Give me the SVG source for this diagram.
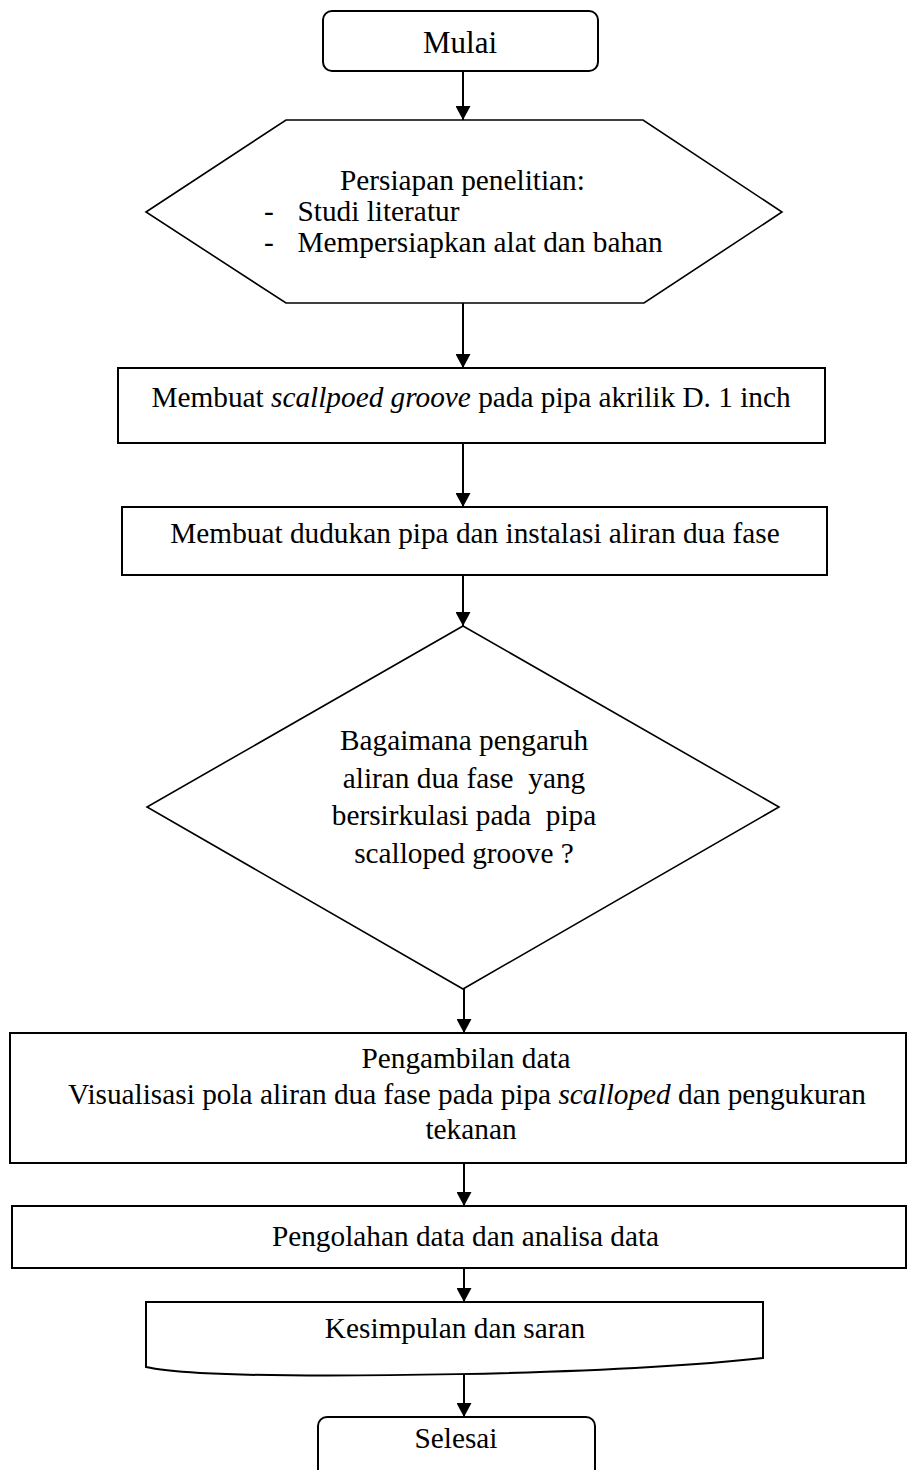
<svg xmlns="http://www.w3.org/2000/svg" width="907" height="1470" viewBox="0 0 907 1470">
<style>
.s{fill:#fff;stroke:#000;stroke-width:2}
.t{font-family:"Liberation Serif","Times New Roman",serif;font-size:29.3px;fill:#000}
.c{text-anchor:middle}
.i{font-style:italic}
.ln{stroke:#000;stroke-width:2;fill:none}
</style>
<defs>
<marker id="ah" markerWidth="14" markerHeight="15" refX="14" refY="7.5" orient="auto" markerUnits="userSpaceOnUse">
<path d="M0,0 L14,7.5 L0,15 Z" fill="#000"/>
</marker>
</defs>
<rect width="907" height="1470" fill="#fff"/>
<g id="connectors">
<line class="ln" x1="463" y1="71" x2="463" y2="120" marker-end="url(#ah)"/>
<line class="ln" x1="463" y1="303" x2="463" y2="368" marker-end="url(#ah)"/>
<line class="ln" x1="463" y1="443" x2="463" y2="507" marker-end="url(#ah)"/>
<line class="ln" x1="463" y1="575" x2="463" y2="626" marker-end="url(#ah)"/>
<line class="ln" x1="464" y1="989" x2="464" y2="1033" marker-end="url(#ah)"/>
<line class="ln" x1="464" y1="1163" x2="464" y2="1206" marker-end="url(#ah)"/>
<line class="ln" x1="464" y1="1268" x2="464" y2="1302" marker-end="url(#ah)"/>
<line class="ln" x1="464" y1="1374" x2="464" y2="1417" marker-end="url(#ah)"/>
</g>
<g id="start">
<rect class="s" x="323" y="11" width="275" height="60" rx="9"/>
<text class="t c" x="460" y="53" style="font-size:31px">Mulai</text>
</g>
<g id="prep">
<polygon class="s" style="stroke-width:1.6" points="146,212 286,120 643,120 782,212 644,303 286,303"/>
<text class="t" x="340" y="190">Persiapan penelitian:</text>
<text class="t" x="264" y="221">-</text>
<text class="t" x="297.5" y="221">Studi literatur</text>
<text class="t" x="264" y="252">-</text>
<text class="t" x="297.5" y="252">Mempersiapkan alat dan bahan</text>
</g>
<g id="groove">
<rect class="s" x="118" y="368" width="707" height="75"/>
<text class="t c" x="471" y="407">Membuat <tspan class="i">scallpoed groove</tspan> pada pipa akrilik D. 1 inch</text>
</g>
<g id="install">
<rect class="s" x="122" y="507" width="705" height="68"/>
<text class="t c" x="475" y="543">Membuat dudukan pipa dan instalasi aliran dua fase</text>
</g>
<g id="decision">
<polygon class="s" style="stroke-width:1.6" points="463,626 779,807 463,989 147,807"/>
<text class="t c" x="464" y="750" xml:space="preserve">Bagaimana pengaruh</text>
<text class="t c" x="464" y="787.5" xml:space="preserve">aliran dua fase  yang</text>
<text class="t c" x="464" y="825" xml:space="preserve">bersirkulasi pada  pipa</text>
<text class="t c" x="464" y="862.5" xml:space="preserve">scalloped groove ?</text>
</g>
<g id="data">
<rect class="s" x="10" y="1033" width="896" height="130"/>
<text class="t c" x="466" y="1068">Pengambilan data</text>
<text class="t c" x="467" y="1104">Visualisasi pola aliran dua fase pada pipa <tspan class="i">scalloped</tspan> dan pengukuran</text>
<text class="t c" x="471" y="1139">tekanan</text>
</g>
<g id="process">
<rect class="s" x="12" y="1206" width="894" height="62"/>
<text class="t c" x="465.5" y="1246">Pengolahan data dan analisa data</text>
</g>
<g id="conclusion">
<path class="s" d="M146,1302 L763,1302 L763,1358 C600,1376 300,1378 200,1373 C170,1371 155,1369 146,1367 Z"/>
<text class="t c" x="455" y="1338">Kesimpulan dan saran</text>
</g>
<g id="end">
<rect class="s" x="318" y="1417" width="277" height="70" rx="9"/>
<text class="t c" x="456" y="1448">Selesai</text>
</g>
</svg>
